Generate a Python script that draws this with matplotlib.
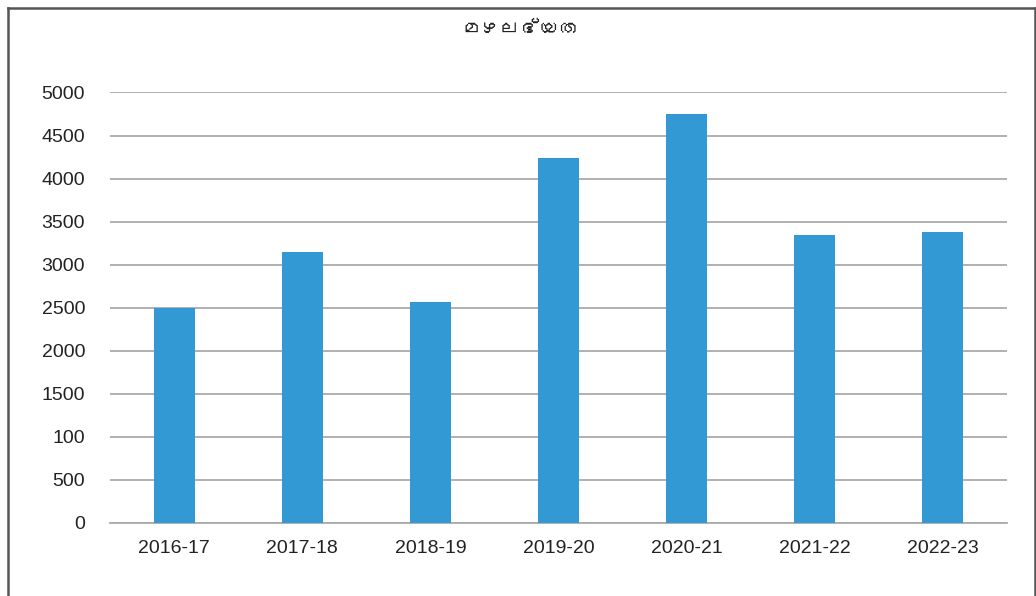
import matplotlib
matplotlib.use("Agg")
import matplotlib.pyplot as plt
from matplotlib import font_manager
from matplotlib.lines import Line2D

years = ["2016-17", "2017-18", "2018-19", "2019-20", "2020-21", "2021-22", "2022-23"]
rainfall = [2495, 3151, 2564, 4244, 4756, 3344, 3380]
ytick_values = [0, 500, 1000, 1500, 2000, 2500, 3000, 3500, 4000, 4500, 5000]
# the source chart really prints "100" at the 1000 line
ytick_labels = ["0", "500", "100", "1500", "2000", "2500", "3000", "3500", "4000", "4500", "5000"]
title = "മഴലഭ്യത"


def find_malayalam_font():
    # look for any installed font that has Malayalam glyphs
    try:
        from fontTools.ttLib import TTFont
    except ImportError:
        return None
    for f in font_manager.fontManager.ttflist:
        try:
            tt = TTFont(f.fname, fontNumber=0, lazy=True)
            cmap = tt.getBestCmap()
            if cmap and 0x0D2E in cmap:
                return f.name
        except Exception:
            continue
    return None


plt.rcParams["font.family"] = ["Liberation Sans", "DejaVu Sans"]

fig = plt.figure(figsize=(10.36, 5.96), dpi=100)
ax = fig.add_axes([0.1062, 0.1225, 0.8658, 0.7223])

x = range(len(years))
ax.bar(x, rainfall, width=0.32, color="#3399d5", zorder=3)

ax.set_xlim(-0.5, len(years) - 0.5)
ax.set_ylim(0, 5000)
ax.set_yticks(ytick_values)
ax.set_yticklabels(ytick_labels)
ax.set_xticks(list(x))
ax.set_xticklabels(years)
ax.tick_params(axis="y", length=0, pad=18, labelsize=14, colors="#222222")
ax.tick_params(axis="x", length=0, pad=12, labelsize=14, colors="#222222")
ax.yaxis.grid(True, color="#aaaaaa", linewidth=1.3, zorder=0)
for s in ["top", "right", "left"]:
    ax.spines[s].set_visible(False)
ax.spines["bottom"].set_color("#aaaaaa")
ax.spines["bottom"].set_linewidth(1.3)

mfont = find_malayalam_font()
fam = [mfont, "DejaVu Sans"] if mfont else ["DejaVu Sans"]
fig.text(0.502, 0.952, title, ha="center", va="center", fontsize=14, family=fam, color="#222222")

# outer frame around the chart (bottom edge falls off the picture)
fw, fh = 1036.0, 596.0
left, top, right = 7.5 / fw, 1 - 7.5 / fh, 1034.5 / fw
for xs, ys in [([left, left], [0, top]), ([left, right], [top, top]), ([right, right], [top, 0])]:
    fig.add_artist(Line2D(xs, ys, transform=fig.transFigure, color="#555555", linewidth=1.8))

fig.savefig("out.png", dpi=100)
